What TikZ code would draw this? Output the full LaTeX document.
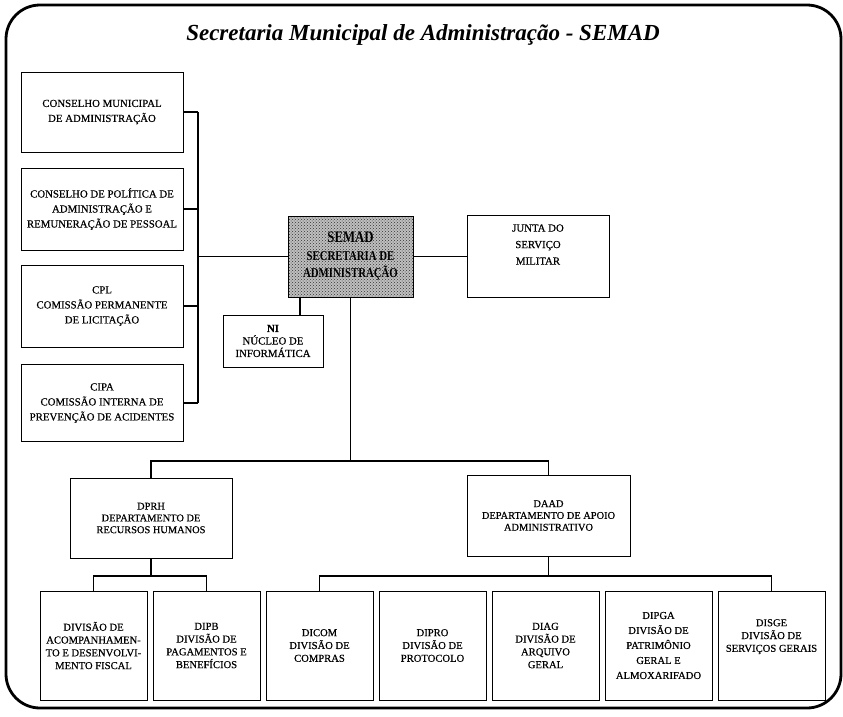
\documentclass[tikz,border=0pt]{standalone}
\usepackage{fontspec}
\setmainfont{Liberation Serif}
\newfontfamily\boxserif[FakeBold=0.5]{Liberation Serif}
\newfontfamily\narrowserif[FakeStretch=0.8]{Liberation Serif}
\usetikzlibrary{patterns,calc}

\begin{document}
\begin{tikzpicture}[x=1pt,y=-1pt,
  box/.style={draw, line width=1pt, align=center, inner sep=0pt,
              font=\boxserif\fontsize{10.8}{15}\selectfont},
  sidebox/.style={box, minimum width=162pt},
  divbox/.style={box, minimum width=107pt, minimum height=109pt,
                 font=\boxserif\fontsize{10.6}{12.8}\selectfont},
  deptbox/.style={box, minimum width=162pt, minimum height=80pt,
                  font=\boxserif\fontsize{10.4}{11.8}\selectfont},
  link/.style={line width=1.8pt},
]
\useasboundingbox (0,0) rectangle (843,716);

% outer frame and heading
\draw[line width=2.8pt, rounded corners=34pt] (6,5) rectangle (841,708);
\node[font=\bfseries\itshape\fontsize{23}{27}\selectfont] (title) at (423,35)
  {Secretaria Municipal de Administração - SEMAD};

% councils and commissions on the left
\node[sidebox, minimum height=80pt] (cma) at (102,112)
  {CONSELHO MUNICIPAL\\DE ADMINISTRAÇÃO};
\node[sidebox, minimum height=82pt] (cpa) at (102,209)
  {CONSELHO DE POLÍTICA DE\\ADMINISTRAÇÃO E\\REMUNERAÇÃO DE PESSOAL};
\node[sidebox, minimum height=82pt] (cpl) at (102,306)
  {CPL\\COMISSÃO PERMANENTE\\DE LICITAÇÃO};
\node[sidebox, minimum height=77pt] (cipa) at (102,403)
  {CIPA\\COMISSÃO INTERNA DE\\PREVENÇÃO DE ACIDENTES};

% the secretariat and its direct units
\node[box, minimum width=125pt, minimum height=81pt,
      preaction={fill=gray!50}, pattern=crosshatch dots,
      pattern color=gray!40!black,
      font=\narrowserif\bfseries\fontsize{13.5}{17.5}\selectfont] (semad) at (350.5,256.5)
  {{\fontsize{16}{17.5}\selectfont SEMAD}\\SECRETARIA DE\\ADMINISTRAÇÃO};
\node[box, minimum width=142pt, minimum height=82pt, text depth=24pt,
      font=\boxserif\fontsize{10.8}{16.5}\selectfont] (junta) at (538,256.5)
  {JUNTA DO\\SERVIÇO\\MILITAR};
\node[box, minimum width=100pt, minimum height=52pt,
      font=\boxserif\fontsize{10.8}{12.5}\selectfont] (ni) at (273,341)
  {\textbf{NI}\\NÚCLEO DE\\INFORMÁTICA};

% departments
\node[deptbox] (dprh) at (151,518)
  {DPRH\\DEPARTAMENTO DE\\RECURSOS HUMANOS};
\node[deptbox, minimum width=163pt, minimum height=81pt] (daad) at (548.5,515.5)
  {DAAD\\DEPARTAMENTO DE APOIO\\ADMINISTRATIVO};

% divisions
\node[divbox] (dafi) at (93.5,645.5)
  {DIVISÃO DE\\ACOMPANHAMEN-\\TO E DESENVOLVI-\\MENTO FISCAL};
\node[divbox] (dipb) at (206.5,645.5)
  {DIPB\\DIVISÃO DE\\PAGAMENTOS E\\BENEFÍCIOS};
\node[divbox] (dicom) at (319.5,645.5)
  {DICOM\\DIVISÃO DE\\COMPRAS};
\node[divbox] (dipro) at (432.5,645.5)
  {DIPRO\\DIVISÃO DE\\PROTOCOLO};
\node[divbox] (diag) at (545.5,645.5)
  {DIAG\\DIVISÃO DE\\ARQUIVO\\GERAL};
\node[divbox, font=\boxserif\fontsize{10.6}{15}\selectfont] (dipga) at (658.5,645.5)
  {DIPGA\\DIVISÃO DE\\PATRIMÔNIO\\GERAL E\\ALMOXARIFADO};
\node[divbox, text depth=20pt] (disge) at (771.5,645.5)
  {DISGE\\DIVISÃO DE\\SERVIÇOS GERAIS};

% bracket joining the councils
\coordinate (bt) at (198,112);
\coordinate (bb) at (198,403);
\draw[link] (cma.east) -- (cma.east -| bt);
\draw[link] (cpa.east) -- (cpa.east -| bt);
\draw[link] (cpl.east) -- (cpl.east -| bt);
\draw[link] (cipa.east) -- (cipa.east -| bt);
\draw[link, line width=2.2pt] (bt) -- (bb);
\draw[link] (semad.west) -- (semad.west -| bt);

% direct links of the secretariat
\draw[link] (semad.east) -- (junta.west);
\draw[link] ([xshift=27pt]ni.north) -- ([xshift=27pt]ni.north |- semad.south);
\coordinate (hub) at (350.5,461);
\draw[link] (semad.south) -- (hub);
\draw[link] (dprh.north) |- (hub) -| (daad.north);

% department buses
\coordinate (hr) at (151,576);
\draw[link] (dprh.south) -- (hr);
\draw[link] (dafi.north) |- (hr) -| (dipb.north);
\coordinate (ha) at (548.5,576);
\draw[link] (daad.south) -- (ha);
\draw[link] (dicom.north) |- (ha) -| (disge.north);
\end{tikzpicture}
\end{document}
